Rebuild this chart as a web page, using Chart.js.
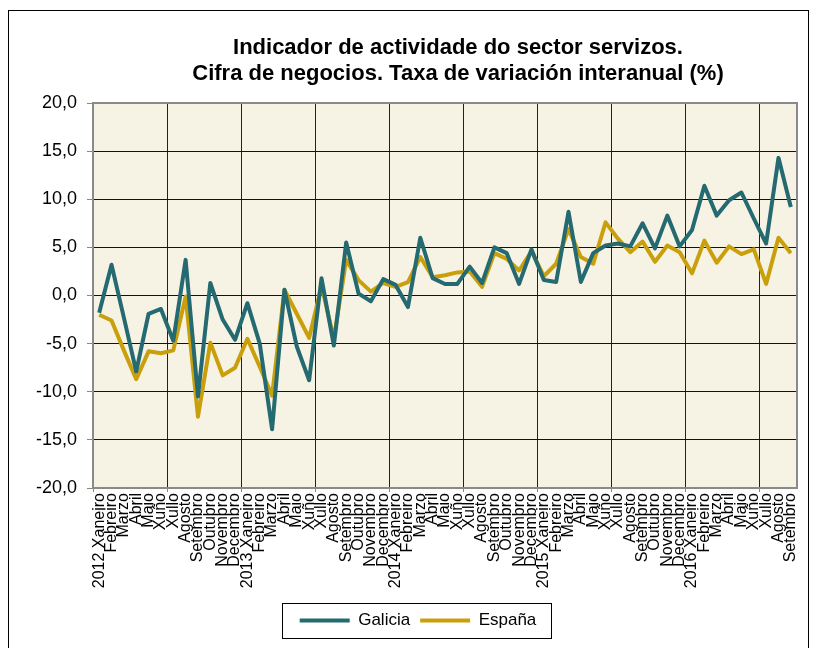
<!DOCTYPE html>
<html>
<head>
<meta charset="utf-8">
<script src="https://cdn.jsdelivr.net/npm/chart.js@4.4.1/dist/chart.umd.min.js"></script>
<style>
	body { margin: 0; background: #fff; }
	canvas { display: block; }
</style>
</head>
<body>
<canvas id="chart" width="815" height="648"></canvas>
<script>
let months = ["Xaneiro", "Febreiro", "Marzo", "Abril", "Maio", "Xuño", "Xullo", "Agosto", "Setembro", "Outubro", "Novembro", "Decembro"];
let years = [2012, 2013, 2014, 2015, 2016];
let galicia = [
	-1.8, 3.2, -2.3, -7.9, -1.9, -1.4, -4.7, 3.7, -10.5, 1.3, -2.5, -4.6,
	-0.8, -5.0, -13.9, 0.6, -5.3, -8.8, 1.8, -5.2, 5.5, 0.2, -0.6, 1.7,
	1.1, -1.2, 6.0, 1.8, 1.2, 1.2, 3.0, 1.3, 5.0, 4.4, 1.2, 4.8,
	1.6, 1.4, 8.7, 1.4, 4.4, 5.2, 5.4, 5.1, 7.5, 4.9, 8.3, 5.1,
	6.8, 11.4, 8.3, 9.9, 10.7, 8.0, 5.4, 14.3, 9.2,
];
let espana = [
	-2.0, -2.6, -5.7, -8.7, -5.8, -6.0, -5.7, -0.1, -12.6, -4.9, -8.3, -7.5,
	-4.5, -7.4, -10.4, 0.6, -1.9, -4.4, 1.0, -4.5, 3.7, 1.6, 0.4, 1.3,
	0.9, 1.4, 4.0, 1.9, 2.1, 2.4, 2.5, 0.9, 4.4, 3.8, 2.6, 4.6,
	2.0, 3.3, 6.9, 4.0, 3.3, 7.6, 5.9, 4.5, 5.6, 3.5, 5.2, 4.5,
	2.3, 5.7, 3.4, 5.1, 4.3, 4.8, 1.2, 6.0, 4.4,
];
let yMin = -20;
let yMax = 20;
let yStep = 5;

let labels = [];
years.forEach((y) => {
	months.forEach((m, i) => {
		if (labels.length < galicia.length) labels.push(i === 0 ? y + " " + m : m);
	});
});

// plot background, outer frame, plot border and the box round the legend
let framePlugin = {
	id: "frame",
	afterLayout(chart) {
		let shift = (box, cx) => {
			let d = cx - (box.left + box.right) / 2;
			box.left += d;
			box.right += d;
		};
		shift(chart.titleBlock, 458);
		shift(chart.legend, 418);
	},
	beforeDraw(chart) {
		let { ctx, chartArea: a } = chart;
		ctx.save();
		ctx.fillStyle = "#fff";
		ctx.fillRect(0, 0, chart.width, chart.height);
		ctx.strokeStyle = "#000";
		ctx.lineWidth = 1;
		ctx.strokeRect(8.5, 10.5, 800, 700);
		ctx.fillStyle = "#F7F3E4";
		ctx.fillRect(a.left, a.top, a.right - a.left, a.bottom - a.top);
		ctx.restore();
	},
	beforeDatasetsDraw(chart) {
		let { ctx, chartArea: a } = chart;
		ctx.save();
		ctx.strokeStyle = "#8a8a8a";
		ctx.lineWidth = 2;
		ctx.strokeRect(a.left, a.top, a.right - a.left, a.bottom - a.top);
		ctx.restore();
	},
	afterDraw(chart) {
		let boxes = chart.legend.legendHitBoxes;
		if (!boxes || !boxes.length) return;
		let l = Math.min(...boxes.map((b) => b.left));
		let r = Math.max(...boxes.map((b) => b.left + b.width));
		let cy = boxes[0].top + boxes[0].height / 2;
		let ctx = chart.ctx;
		ctx.save();
		ctx.strokeStyle = "#000";
		ctx.lineWidth = 1;
		ctx.strokeRect(Math.round(l - 18) + 0.5, Math.round(cy - 18) + 0.5, Math.round(r - l + 32), 35);
		ctx.restore();
	},
};

let renderChart = () => {
	let lineChart = document.getElementById("chart");

	new Chart(lineChart, {
		type: "line",
		data: {
			labels: labels,
			datasets: [
				{
					label: "Galicia",
					data: galicia,
					borderColor: "#246A70",
					backgroundColor: "#246A70",
					borderWidth: 4,
					borderJoinStyle: "round",
					pointRadius: 0,
					tension: 0,
				},
				{
					label: "España",
					data: espana,
					borderColor: "#C9A00C",
					backgroundColor: "#C9A00C",
					borderWidth: 4,
					borderJoinStyle: "round",
					pointRadius: 0,
					tension: 0,
				},
			],
		},
		options: {
			responsive: false,
			animation: false,
			layout: { padding: { left: 0, right: 18, top: 0, bottom: 9 } },
			plugins: {
				title: {
					display: true,
					text: ["Indicador de actividade do sector servizos.", "Cifra de negocios. Taxa de variación interanual (%)"],
					color: "#000",
					font: { family: "'Liberation Sans Narrow', 'Liberation Sans', Arial", size: 22, weight: "bold", lineHeight: 26 / 22 },
					padding: { top: 35, bottom: 16 },
				},
				legend: {
					position: "bottom",
					labels: {
						usePointStyle: true,
						pointStyle: "line",
						pointStyleWidth: 50,
						boxHeight: 4,
						padding: 10,
						color: "#000",
						font: { family: "'Liberation Sans', Arial", size: 17 },
					},
				},
				tooltip: { enabled: false },
			},
			scales: {
				x: {
					offset: true,
					afterFit: (scale) => { scale.height = 114; },
					grid: {
						offset: true,
						color: (c) => (c.index % 6 === 0 ? "#222" : "rgba(0,0,0,0)"),
						tickColor: (c) => (c.index % 6 === 0 ? "#888" : "rgba(0,0,0,0)"),
						tickLength: 4,
						lineWidth: 1,
					},
					border: { display: false },
					ticks: {
						autoSkip: false,
						maxRotation: 90,
						minRotation: 90,
						padding: 1,
						color: "#000",
						font: { family: "'Liberation Sans', Arial", size: 16 },
					},
				},
				y: {
					min: yMin,
					max: yMax,
					afterFit: (scale) => { scale.width = 93; },
					grid: { color: "#111", tickColor: "#888", tickLength: 6, lineWidth: 1 },
					border: { display: false },
					ticks: {
						stepSize: yStep,
						padding: 10,
						color: "#000",
						font: { family: "'Liberation Sans', Arial", size: 18 },
						callback: (v) => v.toFixed(1).replace(".", ","),
					},
				},
			},
		},
		plugins: [framePlugin],
	});
};
renderChart();
</script>
</body>
</html>
